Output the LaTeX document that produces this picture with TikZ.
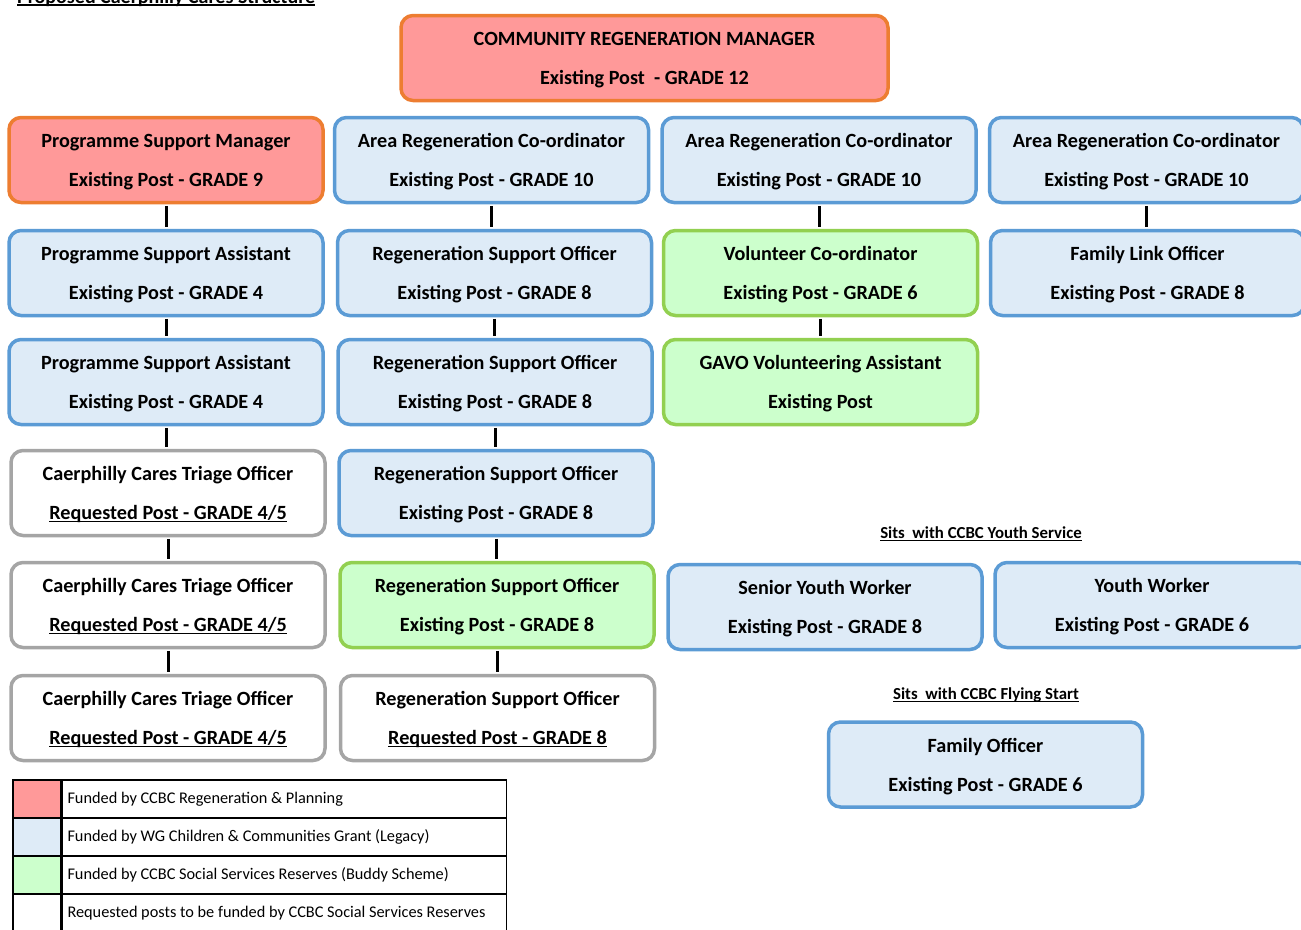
\documentclass[tikz,border=0pt]{standalone}
\usepackage{fontspec}
\setmainfont{Carlito}
\usetikzlibrary{positioning}
\definecolor{regenfill}{HTML}{FF9999}
\definecolor{regenline}{HTML}{ED7D31}
\definecolor{grantfill}{HTML}{DEEBF7}
\definecolor{grantline}{HTML}{5B9BD5}
\definecolor{buddyfill}{HTML}{CCFFCC}
\definecolor{buddyline}{HTML}{92D050}
\definecolor{requestline}{HTML}{A5A5A5}
\newsavebox{\ulinebox}
\newcommand{\ulin}[1]{\sbox{\ulinebox}{#1}\rlap{\rule[-2.6pt]{\wd\ulinebox}{1.3pt}}\usebox{\ulinebox}}
\tikzset{post/.style={rectangle, rounded corners=12pt, draw, line width=3.5pt, minimum width=314pt, minimum height=85pt, align=center, inner sep=0pt, text depth=0pt, font=\fontsize{20.2}{39}\selectfont\bfseries}}
\tikzset{regen/.style={fill=regenfill, draw=regenline}}
\tikzset{grant/.style={fill=grantfill, draw=grantline}}
\tikzset{buddy/.style={fill=buddyfill, draw=buddyline}}
\tikzset{request/.style={fill=white, draw=requestline}}
\tikzset{link/.style={-, line width=3pt, shorten <=1.5pt, shorten >=1.5pt}}
\tikzset{note/.style={inner sep=0pt, font=\fontsize{16.8}{20}\selectfont\bfseries}}
\tikzset{keybox/.style={rectangle, draw, line width=1.5pt, minimum width=48pt, minimum height=38pt, inner sep=0pt}}
\tikzset{keytext/.style={rectangle, draw, line width=1.5pt, minimum width=444pt, minimum height=38pt, inner sep=0pt, font=\fontsize{16.3}{20}\selectfont}}

\begin{document}
\begin{tikzpicture}[x=1pt, y=-1pt]
    \useasboundingbox (0,0) rectangle (1301,929);

    \node[anchor=base west, inner sep=0pt, font=\fontsize{20}{24}\selectfont\bfseries] (title) at (17,3) {\ulin{Proposed Caerphilly Cares Structure}};

    \node[post,regen,minimum width=487pt] (manager) at (644.5,58) {COMMUNITY REGENERATION MANAGER\\Existing Post\ \ - GRADE 12};

    \node[post,regen] (psm) at (166,160) {Programme Support Manager\\Existing Post - GRADE 9};

    \foreach \i/\x in {1/491.5,2/819,3/1146.5} {
            \node[post,grant] (arc\i) at (\x,160) {Area Regeneration Co-ordinator\\Existing Post - GRADE 10};
        }

    \foreach \i/\y in {1/273,2/382} {
            \node[post,grant] (psa\i) at (166,\y) {Programme Support Assistant\\Existing Post - GRADE 4};
        }

    \foreach \i/\y in {1/493,2/605,3/718} {
            \node[post,request] (triage\i) at (168,\y) {Caerphilly Cares Triage Officer\\\ulin{Requested Post - GRADE 4/5}};
        }

    \foreach \i/\x/\y in {1/494.5/273,2/495/382,3/496/493} {
            \node[post,grant] (rso\i) at (\x,\y) {Regeneration Support Officer\\Existing Post - GRADE 8};
        }

    \node[post,buddy] (rso4) at (497,605) {Regeneration Support Officer\\Existing Post - GRADE 8};
    \node[post,request] (rso5) at (497.5,718) {Regeneration Support Officer\\\ulin{Requested Post - GRADE 8}};

    \node[post,buddy] (volco) at (820.5,273) {Volunteer Co-ordinator\\Existing Post - GRADE 6};
    \node[post,buddy] (gavo) at (820.5,382) {GAVO Volunteering Assistant\\Existing Post};

    \node[post,grant] (flo) at (1147.5,273) {Family Link Officer\\Existing Post - GRADE 8};

    \node[note] (youthnote) at (981,534) {\ulin{Sits\ \ with CCBC Youth Service}};
    \node[post,grant] (syw) at (825,607) {Senior Youth Worker\\Existing Post - GRADE 8};
    \node[post,grant] (yw) at (1152,605) {Youth Worker\\Existing Post - GRADE 6};

    \node[note] (flyingnote) at (986,695) {\ulin{Sits\ \ with CCBC Flying Start}};
    \node[post,grant] (famo) at (985.5,764.5) {Family Officer\\Existing Post - GRADE 6};

    \foreach \a/\b in {psm/psa1,psa1/psa2,psa2/triage1,triage1/triage2,triage2/triage3,arc1/rso1,rso1/rso2,rso2/rso3,rso3/rso4,rso4/rso5,arc2/volco,volco/gavo,arc3/flo} {
            \draw[link] (\a.south) -- (\a.south |- \b.north);
        }

    % key
    \foreach \i/\shade/\txt in {1/regenfill/Funded by CCBC Regeneration \& Planning,2/grantfill/Funded by WG Children \& Communities Grant (Legacy),3/buddyfill/Funded by CCBC Social Services Reserves (Buddy Scheme),4/white/Requested posts to be funded by CCBC Social Services Reserves} {
            \node[keybox,fill=\shade] (key\i) at (37,{761+38*\i}) {};
            \node[keytext,right=0pt of key\i] (keytext\i) {\makebox[434pt][l]{\txt}};
        }

\end{tikzpicture}
\end{document}
